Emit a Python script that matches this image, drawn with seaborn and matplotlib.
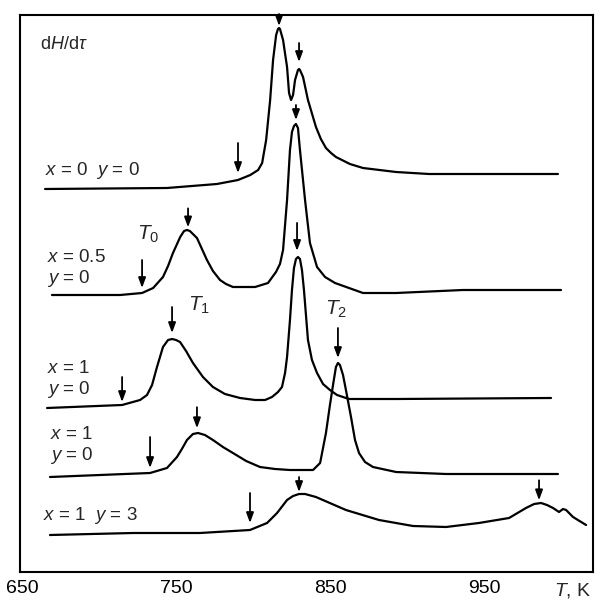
import numpy as np
import pandas as pd
import matplotlib
matplotlib.use("Agg")
import matplotlib.pyplot as plt
import matplotlib.transforms as mtransforms
import seaborn as sns

# ---------------- data (T in K, signal in arbitrary offset units) ----------------
c1_T = [664.5, 743.8, 776.3, 790.0, 798.0, 803.1, 805.7, 808.3, 810.9, 812.8, 814.8, 816.0,
        816.7, 817.3, 819.3, 821.9, 823.2, 824.5, 825.8, 827.1, 829.0, 829.7, 830.3, 832.3,
        835.5, 840.7, 843.9, 847.2, 850.5, 853.7, 862.8, 871.3, 892.8, 914.2, 998.1]
c1_Y = [383, 384, 388, 392, 397, 402, 409, 432, 472, 512, 537, 543,
        544, 543, 532, 505, 479, 472, 477, 492, 502, 503, 502, 495,
        472, 445, 433, 424, 419, 415, 408, 404, 400, 398, 398]

c2_T = [669.0, 713.3, 727.6, 734.8, 741.2, 744.5, 747.7, 752.4, 754.9, 756.8, 758.7, 763.3,
        769.8, 773.7, 778.3, 782.2, 786.7, 801.1, 809.5, 814.7, 817.3, 819.3, 821.9, 823.8,
        825.1, 826.4, 827.7, 829.0, 830.3, 833.6, 836.8, 841.4, 846.6, 853.1, 871.3, 892.8,
        936.3, 1000.1]
c2_Y = [277, 277, 279, 284, 295, 306, 319, 335, 341, 342, 341, 334,
        312, 301, 292, 288, 285, 285, 289, 300, 308, 322, 372, 422,
        440, 446, 448, 444, 422, 372, 329, 305, 295, 289, 279, 279,
        282, 282]

c3_T = [665.8, 714.6, 726.3, 730.8, 734.1, 737.3, 741.2, 744.5, 747.1, 749.7, 752.3, 756.2,
        760.7, 767.2, 773.7, 781.5, 791.3, 801.1, 807.6, 812.1, 816.0, 818.6, 820.6, 821.9,
        823.8, 825.1, 826.4, 827.7, 829.0, 830.3, 831.6, 832.9, 834.2, 835.5, 838.1, 841.4,
        845.3, 849.8, 854.4, 862.2, 892.8, 993.6]
c3_Y = [164, 167, 172, 177, 187, 205, 225, 232, 233, 232, 230, 221,
        209, 195, 185, 178, 174, 172, 172, 175, 180, 185, 199, 215,
        252, 282, 304, 313, 315, 313, 302, 282, 257, 232, 212, 199,
        188, 182, 177, 173, 173, 174]

c4_T = [667.7, 732.8, 743.8, 750.3, 753.5, 756.8, 760.7, 764.0, 768.5, 773.7, 780.2, 786.7,
        795.3, 804.3, 814.1, 823.8, 838.8, 843.4, 847.2, 849.8, 851.8, 853.7, 855.0, 856.3,
        858.3, 860.2, 863.5, 866.1, 868.7, 872.6, 877.8, 892.8, 925.3, 998.1]
c4_Y = [95, 99, 104, 115, 123, 132, 138, 139, 137, 132, 125, 119,
        111, 105, 103, 102, 102, 109, 139, 167, 187, 205, 209, 207,
        197, 182, 155, 132, 119, 110, 105, 100, 98, 98]

c5_T = [667.7, 721.7, 765.3, 797.8, 808.9, 815.4, 821.9, 825.8, 829.7, 833.6, 840.7, 860.2,
        881.7, 903.8, 925.3, 946.7, 966.3, 977.3, 982.6, 987.1, 991.0, 994.9, 998.8, 1001.4,
        1003.4, 1007.9, 1016.4]
c5_Y = [37, 39, 39, 42, 49, 59, 72, 76, 78, 78, 75, 62,
        52, 46, 45, 49, 54, 64, 68, 69, 67, 64, 60, 63,
        62, 55, 47]

curves_T = [c1_T, c2_T, c3_T, c4_T, c5_T]
curves_Y = [c1_Y, c2_Y, c3_Y, c4_Y, c5_Y]

# arrow temperatures per curve (onset / peaks)
arrow_T = [[790.0, 816.7, 829.7],
           [727.6, 757.5, 827.7],
           [714.6, 747.1, 828.4],
           [732.8, 763.3, 855.0],
           [797.8, 829.7, 985.8]]

curve_labels = ["$x$ = 0  $y$ = 0", "$x$ = 0.5\n$y$ = 0", "$x$ = 1\n$y$ = 0",
                "$x$ = 1\n$y$ = 0", "$x$ = 1  $y$ = 3"]
temp_labels = ["$T_0$", "$T_1$", "$T_2$"]
x_ticks = [650, 750, 850, 950]
x_ticklabels = ["650", "750", "850", "950"]
y_label = "d$H$/d$\\tau$"
x_label = "$T$, K"

# ---------------- styling / layout ----------------
arrow_len = [[30, 12, 19], [28, 19, 15], [25, 26, 28], [31, 21, 30], [30, 15, 20]]
arrow_gap = [[7, 2, 7], [5, 3, 4], [3, 6, 7], [5, 5, 5], [7, 2, 3]]
label_pos = [(664.5, 397), (665.8, 289), (665.8, 178), (667.7, 112), (663.2, 52)]
temp_pos = [(724.3, 332), (757.5, 261), (846.8, 257)]

sns.set_style("white")
plt.rcParams["font.family"] = ["Liberation Sans", "DejaVu Sans"]
plt.rcParams["mathtext.fontset"] = "custom"
plt.rcParams["mathtext.rm"] = "Liberation Sans"
plt.rcParams["mathtext.it"] = "Liberation Sans:italic"
plt.rcParams["mathtext.bf"] = "Liberation Sans:bold"

W, H = 596, 603
fig = plt.figure(figsize=(W / 100, H / 100), dpi=100)
ax = fig.add_axes([20 / W, (H - 572) / H, (593 - 20) / W, (572 - 15) / H])

frames = []
for i, (tt, yy) in enumerate(zip(curves_T, curves_Y)):
    frames.append(pd.DataFrame({"T": tt, "Y": yy, "curve": i}))
df = pd.concat(frames, ignore_index=True)

sns.lineplot(data=df, x="T", y="Y", units="curve", estimator=None, sort=False,
             color="black", linewidth=1.6, ax=ax, legend=False)

for i in range(len(curves_T)):
    for t, L, g in zip(arrow_T[i], arrow_len[i], arrow_gap[i]):
        yc = np.interp(t, curves_T[i], curves_Y[i])
        ax.annotate("", xy=(t, yc + g), xytext=(t, yc + g + L),
                    arrowprops=dict(arrowstyle="-|>,head_length=0.6,head_width=0.22",
                                    color="black", lw=1.3, shrinkA=0, shrinkB=0,
                                    mutation_scale=10),
                    annotation_clip=False)

for txt, (x, y) in zip(curve_labels, label_pos):
    ax.text(x, y, txt, fontsize=13.5, ha="left", va="baseline", linespacing=1.15)

for txt, (x, y) in zip(temp_labels, temp_pos):
    ax.text(x, y, txt, fontsize=15, ha="left", va="baseline")

ax.text(661.2, 523, y_label, fontsize=13, ha="left", va="baseline")

ax.set_xlim(648.2, 1020.9)
ax.set_ylim(0, 557)
ax.set_xticks(x_ticks)
ax.set_xticklabels(x_ticklabels)
ax.set_yticks([])
ax.set_xlabel("")
ax.set_ylabel("")
ax.tick_params(axis="x", direction="in", length=7, width=1.3, labelsize=14, pad=6,
               colors="black")
for s in ax.spines.values():
    s.set_visible(True)
    s.set_color("black")
    s.set_linewidth(1.5)

trans = mtransforms.blended_transform_factory(ax.transData, ax.transAxes)
ax.text(1008, -0.0335, x_label, transform=trans, fontsize=14, ha="center", va="center")

fig.savefig("out.png", dpi=100, facecolor="white")
